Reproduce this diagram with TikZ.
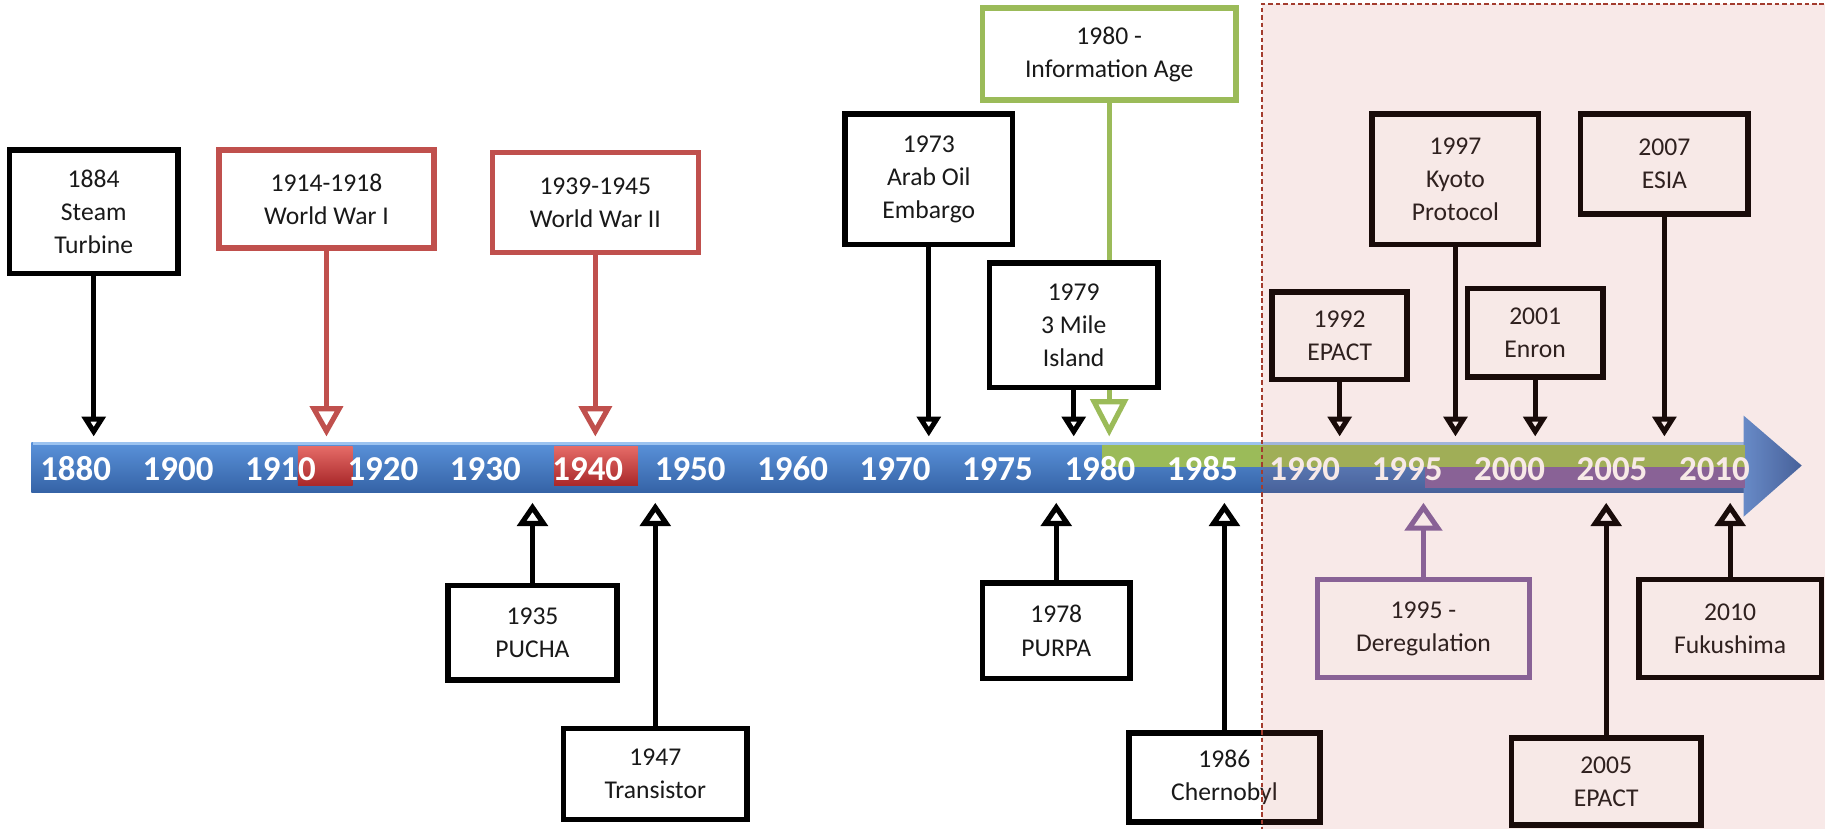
\documentclass[tikz,border=0pt]{standalone}
\usepackage{fontspec}
\setmainfont{Carlito}
\usetikzlibrary{arrows.meta,positioning,shapes}

\definecolor{bartop}{HTML}{5A92DA}
\definecolor{barbot}{HTML}{3563A6}
\definecolor{barshine}{HTML}{9CC3F0}
\definecolor{warred}{HTML}{C0504D}
\definecolor{blocktop}{HTML}{E46A66}
\definecolor{blockbot}{HTML}{A9282A}
\definecolor{infogreen}{HTML}{9BBB59}
\definecolor{deregpurple}{HTML}{8064A2}
\definecolor{zonefill}{HTML}{C8584A}
\definecolor{zoneline}{HTML}{A33C2E}

\tikzset{
  evbox/.style={draw=black, line width=2.4pt, fill=white, align=center,
    inner sep=0pt, text=black!90, font=\fontsize{11}{14.2}\selectfont},
  warbox/.style={evbox, draw=warred},
  infobox/.style={evbox, draw=infogreen},
  deregbox/.style={evbox, draw=deregpurple},
  year/.style={text=white, font=\fontsize{15}{18}\selectfont\bfseries, inner sep=0pt},
  evline/.style={line width=2.2pt, draw=black},
  downtip/.style={evline, -{Triangle[open,length=8.5pt,width=10pt]}},
  uptip/.style={evline, -{Triangle[open,length=10pt,width=13pt]}},
}

\begin{document}
\begin{tikzpicture}[x=1pt, y=-1pt, node distance=44pt]
  \useasboundingbox (0,0) rectangle (784,356);

  % timeline bar
  \shade[top color=bartop, bottom color=barbot] (13.5,190) rectangle (749.5,211.5);
  \draw[barshine, line width=1.2pt] (14,190.6) -- (749.5,190.6);
  \shade[left color=bartop, right color=barbot] (749,178.5) -- (774,200) -- (749,222) -- cycle;
  \fill[infogreen] (473.5,191.2) rectangle (749.5,200.5);
  \fill[deregpurple] (612,200.5) rectangle (749.5,209.5);
  \shade[top color=blocktop, bottom color=blockbot] (128,192) rectangle (151.5,208.5);
  \shade[top color=blocktop, bottom color=blockbot] (238,192) rectangle (274,208.5);

  % years
  \node[year] (y1880) at (32.5,201.5) {1880};
  \node[year, right of=y1880] (y1900) {1900};
  \node[year, right of=y1900] (y1910) {1910};
  \node[year, right of=y1910] (y1920) {1920};
  \node[year, right of=y1920] (y1930) {1930};
  \node[year, right of=y1930] (y1940) {1940};
  \node[year, right of=y1940] (y1950) {1950};
  \node[year, right of=y1950] (y1960) {1960};
  \node[year, right of=y1960] (y1970) {1970};
  \node[year, right of=y1970] (y1975) {1975};
  \node[year, right of=y1975] (y1980) {1980};
  \node[year, right of=y1980] (y1985) {1985};
  \node[year, right of=y1985] (y1990) {1990};
  \node[year, right of=y1990] (y1995) {1995};
  \node[year, right of=y1995] (y2000) {2000};
  \node[year, right of=y2000] (y2005) {2005};
  \node[year, right of=y2005] (y2010) {2010};

  \coordinate (up) at (0,187.5);
  \coordinate (down) at (0,216);

  % events above the bar
  \node[evbox, minimum width=72.5pt, minimum height=53pt] (steam) at (40.25,91) {1884\\Steam\\Turbine};
  \node[warbox, minimum width=92.5pt, minimum height=42pt] (wwone) at (140.25,85.5) {1914-1918\\World War I};
  \node[warbox, minimum width=88.5pt, minimum height=43pt] (wwtwo) at (255.75,87) {1939-1945\\World War II};
  \node[evbox, minimum width=72pt, minimum height=56pt] (oil) at (399,77) {1973\\Arab Oil\\Embargo};
  \node[infobox, minimum width=109pt, minimum height=39.5pt] (info) at (476.5,23.25) {1980 -\\Information Age};
  \draw[line width=2.2pt, infogreen, -{Triangle[open,length=16pt,width=16pt]}] (info.south) -- (info.south |- up);
  \node[evbox, minimum width=72.5pt, minimum height=53.5pt] (tmi) at (461.25,139.75) {1979\\3 Mile\\Island};
  \node[evbox, minimum width=58pt, minimum height=37.5pt] (epactA) at (575.5,144.25) {1992\\EPACT};
  \node[evbox, minimum width=71.5pt, minimum height=56pt] (kyoto) at (625.25,77) {1997\\Kyoto\\Protocol};
  \node[evbox, minimum width=58pt, minimum height=38pt] (enron) at (659.5,143) {2001\\Enron};
  \node[evbox, minimum width=72pt, minimum height=43pt] (esia) at (715,70.5) {2007\\ESIA};

  \draw[downtip] (steam.south) -- (steam.south |- up);
  \draw[line width=2.2pt, warred, -{Triangle[open,length=13pt,width=14pt]}] (wwone.south) -- (wwone.south |- up);
  \draw[line width=2.2pt, warred, -{Triangle[open,length=13pt,width=14pt]}] (wwtwo.south) -- (wwtwo.south |- up);
  \draw[downtip] (oil.south) -- (oil.south |- up);
  \draw[downtip] (tmi.south) -- (tmi.south |- up);
  \draw[downtip] (epactA.south) -- (epactA.south |- up);
  \draw[downtip] (kyoto.south) -- (kyoto.south |- up);
  \draw[downtip] (enron.south) -- (enron.south |- up);
  \draw[downtip] (esia.south) -- (esia.south |- up);

  % events below the bar
  \node[evbox, minimum width=72.5pt, minimum height=40.5pt] (pucha) at (228.75,271.75) {1935\\PUCHA};
  \node[evbox, minimum width=79pt, minimum height=39pt] (transistor) at (281.5,332.5) {1947\\Transistor};
  \node[evbox, minimum width=63.5pt, minimum height=41pt] (purpa) at (453.75,271) {1978\\PURPA};
  \node[evbox, minimum width=82pt, minimum height=38pt] (chernobyl) at (526,334) {1986\\Chernobyl};
  \node[deregbox, minimum width=91pt, minimum height=42pt] (dereg) at (611.5,270) {1995 -\\Deregulation};
  \node[evbox, minimum width=81.5pt, minimum height=37.5pt] (epactB) at (690,335.75) {2005\\EPACT};
  \node[evbox, minimum width=78.5pt, minimum height=42pt] (fukushima) at (743.25,270) {2010\\Fukushima};

  \draw[uptip] (pucha.north) -- (pucha.north |- down);
  \draw[uptip] (transistor.north) -- (transistor.north |- down);
  \draw[uptip] (purpa.north) -- (purpa.north |- down);
  \draw[uptip] (chernobyl.north) -- (chernobyl.north |- down);
  \draw[line width=2.2pt, deregpurple, -{Triangle[open,length=12pt,width=16pt]}] (dereg.north) -- (dereg.north |- down);
  \draw[uptip] (epactB.north) -- (epactB.north |- down);
  \draw[uptip] (fukushima.north) -- (fukushima.north |- down);

  % recent period
  \fill[zonefill, opacity=0.13] (542,1.75) rectangle (790,360);
  \draw[zoneline, line width=0.7pt, dash pattern=on 2pt off 1.2pt] (790,1.75) -- (542,1.75) -- (542,360);
\end{tikzpicture}
\end{document}
